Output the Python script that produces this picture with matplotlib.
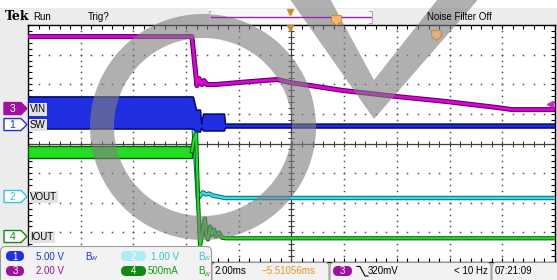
import numpy as np
import matplotlib
matplotlib.use('Agg')
import matplotlib.pyplot as plt
from matplotlib.patches import FancyBboxPatch, Polygon, PathPatch, Rectangle
from matplotlib.path import Path

plt.rcParams['font.family'] = ['Liberation Sans', 'DejaVu Sans']

# scope settings: volts (amps) per division and ground position in divisions
ch_scale = {1: 5.0, 2: 1.0, 3: 2.0, 4: 0.5}
ch_pos = {1: 0.64, 2: -1.79, 3: 1.18, 4: -3.14}
ch_label = {1: 'SW', 2: 'VOUT', 3: 'VIN', 4: 'IOUT'}
ch_color = {1: '#2030e0', 2: '#30c8d8', 3: '#a010a0', 4: '#108a10'}

# time in ms (2 ms/div, screen centre = 0)
vin_t = [-10.0, -3.78, -3.59, -3.51, -3.40, -3.32, -3.21, -2.90, -1.57, -0.55,
         -0.06, 1.95, 4.00, 5.90, 7.80, 8.37, 10.0]
vin_v = [4.86, 4.86, 1.55, 2.03, 1.62, 1.89, 1.62, 1.62, 1.82, 1.96,
         1.76, 1.22, 0.81, 0.47, 0.07, -0.07, -0.07]

# switch node: envelope of the fast switching (high / low)
sw_t = [-10.0, -3.74, -3.62, -3.59, -3.47, -3.43, -3.36, -2.56, -2.52, 10.0]
sw_hi = [4.73, 4.73, 2.53, 2.53, 2.53, 0.17, 1.86, 1.86, 0.17, 0.17]
sw_lo = [-0.68, -0.68, -1.18, -1.18, -1.18, -0.51, -1.01, -1.01, -0.51, -0.51]

vout_t = [-10.0, -3.78, -3.55, -3.47, -3.36, -3.24, -3.13, -2.98, -2.79, -2.52, 10.0]
vout_v = [3.31, 3.31, -0.07, 0.03, 0.14, 0.07, 0.10, 0.03, 0.0, -0.05, -0.05]

# output current: noisy band before the drop, then ringing
iout_band_t = [-10.0, -3.78]
iout_hi = [1.52, 1.52]
iout_lo = [1.33, 1.33]
iout_t = [-3.78, -3.70, -3.62, -3.55, -3.47, -3.40, -3.32, -3.28, -3.24, -3.17,
          -3.09, -3.02, -2.94, -2.87, -2.75, -2.64, -2.49, 10.0]
iout_a = [1.44, 1.64, 1.74, 0.63, -0.15, 0.02, 0.25, 0.30, 0.02, -0.05,
          0.17, 0.03, 0.12, 0.0, 0.07, -0.02, -0.03, -0.03]


def to_div(ch, vals):
    return ch_pos[ch] + np.asarray(vals) / ch_scale[ch]


W, H = 557, 280
gl, gt, gr, gb = 28, 25, 555, 262

fig = plt.figure(figsize=(W / 100, H / 100), dpi=100, facecolor='#ececec')
ax = fig.add_axes([gl / W, 1 - gb / H, (gr - gl) / W, (gb - gt) / H], facecolor='white')
ax.set_xlim(-10, 10)
ax.set_ylim(-4, 4)
ax.set_xticks(np.arange(-10, 10.1, 2))
ax.set_xticks(np.arange(-10, 10.01, 0.4), minor=True)
ax.set_yticks(np.arange(-4, 4.1, 1))
ax.set_yticks(np.arange(-4, 4.01, 0.2), minor=True)
ax.tick_params(which='both', direction='in', top=True, right=True, length=3,
               width=0.8, labelbottom=False, labelleft=False)
for s in ax.spines.values():
    s.set_linewidth(1.0)

# dotted graticule
xx = np.arange(-10, 10.01, 0.4)
yy = np.arange(-4, 4.01, 0.2)
for x in [-8, -6, -4, -2, 2, 4, 6, 8]:
    ax.plot(np.full_like(yy, x), yy, ls='none', marker='s', ms=1.1, mew=0, color='#505050')
for y in [-3, -2, -1, 1, 2, 3]:
    ax.plot(xx, np.full_like(xx, y), ls='none', marker='s', ms=1.1, mew=0, color='#505050')
ax.axvline(0, color='#404040', lw=0.9)
ax.axhline(0, color='#404040', lw=0.9)
ax.plot(np.zeros_like(yy), yy, ls='none', marker='_', ms=5, mew=0.8, color='#404040')
ax.plot(xx, np.zeros_like(xx), ls='none', marker='|', ms=5, mew=0.8, color='#404040')

# traces
ax.plot(vout_t, to_div(2, vout_v), color='#0b6470', lw=3.2, zorder=3)
ax.plot(vout_t, to_div(2, vout_v), color='#30e0ee', lw=1.8, zorder=3.1)
ax.fill_between(sw_t, to_div(1, sw_lo), to_div(1, sw_hi), facecolor='#1f2ee0',
                edgecolor='#000066', lw=1, zorder=4)
ax.fill_between(iout_band_t, to_div(4, iout_lo), to_div(4, iout_hi), facecolor='#22dd22',
                edgecolor='#0a5a0a', lw=1, zorder=5)
ax.plot(iout_t, to_div(4, iout_a), color='#0a5a0a', lw=3.0, zorder=5)
ax.plot(iout_t, to_div(4, iout_a), color='#22dd22', lw=1.6, zorder=5.1)
ax.plot(vin_t, to_div(3, vin_v), color='#600060', lw=3.6, zorder=6)
ax.plot(vin_t, to_div(3, vin_v), color='#e000e0', lw=2.0, zorder=6.1)

# overlay in pixel coordinates
ov = fig.add_axes([0, 0, 1, 1], zorder=10, facecolor='none')
ov.set_xlim(0, W)
ov.set_ylim(H, 0)
ov.axis('off')


def ypix(div):
    return gt + (4 - div) / 8 * (gb - gt)


ov.add_patch(Rectangle((0, 0), W, 8, fc='white', ec='none'))
ov.text(5, 16, 'Tek', family=['DejaVu Serif'], fontweight='bold', fontsize=9, va='center')
ov.text(33, 16.5, 'Run', fontsize=7, va='center')
ov.text(88, 16.5, 'Trig?', fontsize=7, va='center')
ov.text(427, 16.5, 'Noise Filter Off', fontsize=7, va='center')
ov.add_patch(Rectangle((209, 9), 164, 15, fc='#f7f7f7', ec='none'))
ov.plot([211, 371], [17, 17], color='#9a2aa8', lw=1)
ov.plot([211, 209, 209, 211], [11, 11, 23, 23], color='#b0b0b0', lw=0.8)
ov.plot([369, 372, 372, 369], [11, 11, 23, 23], color='#b0b0b0', lw=0.8)
ov.plot(290, 12, marker='v', ms=5, color='#c8902a')
ov.plot(290, 28, marker='v', ms=5, color='#c8902a')
pin = [(-1, 1), (1, 1), (1, -0.2), (0, -1), (-1, -0.2), (-1, 1)]
ov.plot(336, 20, marker=pin, ms=7, mfc='#f6b868', mec='#d08020', mew=0.6)
ov.plot(436, 35, marker=pin, ms=7, mfc='#e0b080', mec='#c08040', mew=0.6)
ov.plot(550, ypix(ch_pos[3] + 0.32 / ch_scale[3]), marker='<', ms=5, color='#d020d0')

# channel markers and labels
for ch in [3, 1, 2, 4]:
    y = ypix(ch_pos[ch])
    col = ch_color[ch]
    filled = ch == 3
    ov.add_patch(Polygon([(4, y - 6), (21, y - 6), (27, y), (21, y + 6), (4, y + 6)],
                         closed=True, fc=col if filled else 'white', ec=col, lw=1))
    ov.text(12.5, y + 0.5, str(ch), color='white' if filled else col, ha='center',
            va='center', fontsize=7.5)
    ov.text(30, y + 0.5, ch_label[ch], ha='left', va='center', fontsize=7,
            bbox=dict(boxstyle='square,pad=0.15', fc='#e2e2e2', ec='none'))

# watermark
def circle(cx, cy, r, ccw=True):
    a = np.linspace(0, 2 * np.pi, 200)
    if not ccw:
        a = a[::-1]
    return np.column_stack([cx + r * np.cos(a), cy + r * np.sin(a)])


ring_out = circle(203, 127, 113)
ring_in = circle(203, 127, 89, ccw=False)
vee = np.array([(374, 119), (482, -5), (441, -5), (374, 80), (328, -5), (287, -5)], float)
area = 0.5 * np.sum(vee[:, 0] * np.roll(vee[:, 1], -1) - np.roll(vee[:, 0], -1) * vee[:, 1])
if area < 0:
    vee = vee[::-1]
wm = Path.make_compound_path(Path(ring_out, closed=False), Path(ring_in), Path(vee))
ov.add_patch(PathPatch(wm, fc='#808080', ec='none', alpha=0.62))

# status bar
ov.add_patch(FancyBboxPatch((0.5, 246.5), 211, 40, boxstyle='round,pad=0,rounding_size=5',
                            fc='#f2f2f2', ec='#9a9a9a', lw=0.8))
for x0, w in [(212, 117), (330, 161), (492, 70)]:
    ov.add_patch(FancyBboxPatch((x0, 262.5), w, 25, boxstyle='round,pad=0,rounding_size=4',
                                fc='#f2f2f2', ec='#9a9a9a', lw=0.8))


def oval(x, y, w, fc, txt):
    ov.add_patch(FancyBboxPatch((x, y - 5), w, 10, boxstyle='round,pad=0,rounding_size=5',
                                fc=fc, ec='none'))
    ov.text(x + w / 2, y + 0.5, txt, color='white', ha='center', va='center', fontsize=7)


def bw(x, y, col):
    ov.text(x, y, 'B', color=col, va='center', fontsize=7)
    ov.text(x + 5.5, y + 2.5, 'W', color=col, va='center', fontsize=4.5)


oval(6, 256, 18, ch_color[1], '1')
ov.text(36, 256.5, '5.00 V', color=ch_color[1], va='center', fontsize=7)
bw(85, 256.5, ch_color[1])
oval(121, 256, 25, '#a8eef2', '2')
ov.text(151, 256.5, '1.00 V', color='#30c8d8', va='center', fontsize=7)
bw(198, 256.5, '#30c8d8')
oval(6, 271, 18, ch_color[3], '3')
ov.text(36, 271.5, '2.00 V', color=ch_color[3], va='center', fontsize=7)
oval(121, 271, 25, ch_color[4], '4')
ov.text(148, 271.5, '500mA', color='#10a010', va='center', fontsize=7)
bw(198, 271.5, '#10a010')

ov.text(215, 271.5, '2.00ms', va='center', fontsize=7)
ov.text(262, 271.5, '\u22125.51056ms', color='#f0901a', va='center', fontsize=7)
oval(333, 271, 19, ch_color[3], '3')
ov.plot([357, 360, 365, 368], [266.5, 266.5, 276, 276], color='black', lw=0.8)
ov.text(368, 271.5, '320mV', va='center', fontsize=7)
ov.text(454, 271.5, '< 10 Hz', va='center', fontsize=7)
ov.text(495, 271.5, '07:21:09', va='center', fontsize=7)

fig.savefig('out.png', dpi=100, facecolor=fig.get_facecolor())
